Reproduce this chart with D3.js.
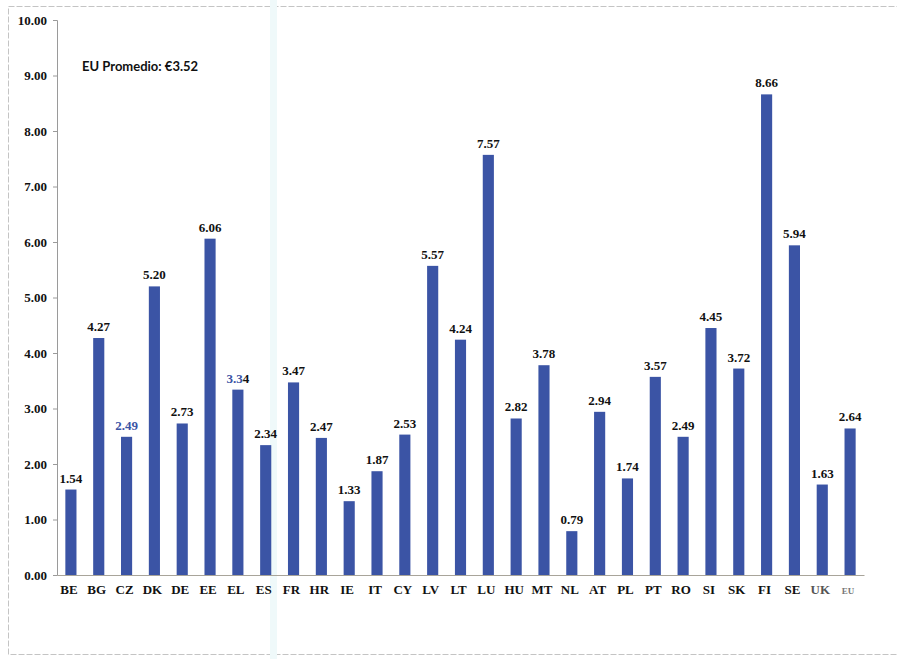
<!DOCTYPE html>
<html>
<head>
<meta charset="utf-8">
<script src="https://cdn.jsdelivr.net/npm/d3@7/dist/d3.min.js"></script>
<style>
  html, body { margin: 0; padding: 0; background: #fff; }
  svg { display: block; }
</style>
</head>
<body>
<svg id="chart" width="897" height="659"></svg>
<script>
// Country codes along the x axis
const countries = ["BE","BG","CZ","DK","DE","EE","EL","ES","FR","HR","IE","IT","CY","LV","LT","LU","HU","MT","NL","AT","PL","PT","RO","SI","SK","FI","SE","UK","EU"];
// Value per country (EUR)
const values = [1.54,4.27,2.49,5.20,2.73,6.06,3.34,2.34,3.47,2.47,1.33,1.87,2.53,5.57,4.24,7.57,2.82,3.78,0.79,2.94,1.74,3.57,2.49,4.45,3.72,8.66,5.94,1.63,2.64];
// Y axis tick values
const yTicks = [0,1,2,3,4,5,6,7,8,9,10];
const averageLabel = "EU Promedio: €3.52";

const data = countries.map((c, i) => ({ c, v: values[i] }));

const svg = d3.select("#chart");
const barColor = "#3b54a5";
const serif = "'Liberation Serif', 'Times New Roman', serif";

// outer frame
svg.append("rect")
  .attr("x", 8.5).attr("y", 6.5).attr("width", 900).attr("height", 648)
  .attr("fill", "none").attr("stroke", "#c4c4c4").attr("stroke-width", 1)
  .attr("stroke-dasharray", "6,2");

// faint vertical tint band across the sheet
svg.append("rect")
  .attr("x", 270).attr("y", 0).attr("width", 7).attr("height", 659)
  .attr("fill", "#eff9fa");

const x = d3.scaleBand().domain(countries).range([57, 864]).padding(0);
const y = d3.scaleLinear().domain([0, 10]).range([575, 20]);
const barW = x.bandwidth() * 0.4;

// y axis
const yAxis = d3.axisLeft(y).tickValues(yTicks).tickFormat(d3.format(".2f")).tickSize(4).tickPadding(6);
const gy = svg.append("g").attr("transform", "translate(57,0)").call(yAxis);
gy.select(".domain").attr("stroke", "#9a9a9a");
gy.selectAll(".tick line").attr("stroke", "#9a9a9a");
gy.selectAll(".tick text")
  .attr("font-family", serif).attr("font-weight", "bold").attr("font-size", 13)
  .attr("fill", "#111");

// bars
svg.append("g").selectAll("rect").data(data).join("rect")
  .attr("x", d => x(d.c) + (x.bandwidth() - barW) / 2)
  .attr("y", d => y(d.v))
  .attr("width", barW)
  .attr("height", d => y(0) - y(d.v))
  .attr("fill", barColor);

// x axis
const xAxis = d3.axisBottom(x).tickSize(0).tickFormat("");
const gx = svg.append("g").attr("transform", "translate(0,575)").call(xAxis);
gx.select(".domain").attr("stroke", "#a8a49a");

// country labels under each bar
svg.append("g").selectAll("text").data(data).join("text")
  .attr("x", d => x(d.c) + x.bandwidth() / 2 - 2)
  .attr("y", 594)
  .attr("text-anchor", "middle")
  .attr("font-family", serif).attr("font-weight", "bold")
  .attr("font-size", d => d.c === "EU" ? 9 : 13)
  .attr("fill", d => d.c === "UK" ? "#555" : (d.c === "EU" ? "#777" : "#111"))
  .text(d => d.c);

// value labels above bars
const labels = svg.append("g").selectAll("text").data(data).join("text")
  .attr("x", d => x(d.c) + x.bandwidth() / 2)
  .attr("y", d => y(d.v) - 7)
  .attr("text-anchor", "middle")
  .attr("font-family", serif).attr("font-weight", "bold").attr("font-size", 13)
  .attr("fill", d => d.c === "CZ" ? "#3b54a5" : "#111");

labels.each(function(d) {
  const t = d3.select(this);
  const s = d3.format(".2f")(d.v);
  if (d.c === "EL") {
    t.append("tspan").attr("fill", "#3b54a5").text(s.slice(0, 3));
    t.append("tspan").attr("fill", "#111").text(s.slice(3));
  } else {
    t.text(s);
  }
});

// EU average note
svg.append("text")
  .attr("x", 82).attr("y", 71)
  .attr("font-family", "Lato, 'Open Sans', sans-serif").attr("font-weight", "bold")
  .attr("font-size", 13).attr("fill", "#111")
  .text(averageLabel);
</script>
</body>
</html>
